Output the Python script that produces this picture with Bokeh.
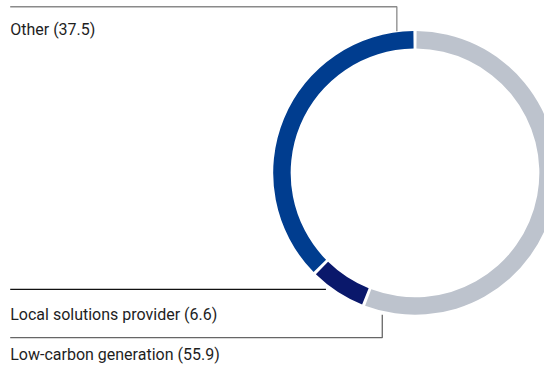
import math
from bokeh.plotting import figure
from bokeh.models import Range1d
from bokeh.core.properties import value
from bokeh.embed import file_html
from bokeh.resources import INLINE

# Data (share, clockwise from 12 o'clock)
segments = ["Low-carbon generation", "Local solutions provider", "Other"]
values = [55.9, 6.6, 37.5]
colors = ["#bdc3cd", "#0a186b", "#003d8f"]
label_texts = [f"{s} ({v})" for s, v in zip(segments, values)]

W, H = 544, 365
# layout coordinates: 560 x 381 design space, y measured downward as -y
p = figure(width=W, height=H, output_backend="svg", toolbar_location=None,
           x_range=Range1d(0, 560), y_range=Range1d(-381, 0),
           min_border=0, outline_line_color=None)
p.axis.visible = False
p.grid.visible = False
p.background_fill_color = "white"
p.border_fill_color = "white"

cx, cy = 426.7, -180.0
r_out, r_in = 146, 128
gap = 0.65  # degrees on each side

total = sum(values)
starts, ends = [], []
cum = 0.0
for v in values:
    t1 = cum / total * 360.0
    t2 = (cum + v) / total * 360.0
    cum += v
    a_hi = 90.0 - t1 - gap
    a_lo = 90.0 - t2 + gap
    starts.append(math.radians(a_lo))
    ends.append(math.radians(a_hi))

p.annular_wedge(x=[cx] * 3, y=[cy] * 3, inner_radius=r_in, outer_radius=r_out,
                start_angle=starts, end_angle=ends, fill_color=colors,
                line_color=None)

# Leader lines
p.line(x=[10, 408, 408], y=[-6.5, -6.5, -32], line_color="#8a8a8a", line_width=1.3)
p.line(x=[10, 335], y=[-301.5, -301.5], line_color="#111111", line_width=1.3)
p.line(x=[10, 393, 393], y=[-352, -352, -328], line_color="#666666", line_width=1.3)

font = value("Roboto")
p.text(x=[10, 10, 10], y=[-30, -327.5, -370],
       text=[label_texts[2], label_texts[1], label_texts[0]],
       text_font=font, text_font_size="16px", text_color="#1e1e1e",
       text_baseline="alphabetic", text_align="left")

open("out.html", "w").write(file_html(p, INLINE))
